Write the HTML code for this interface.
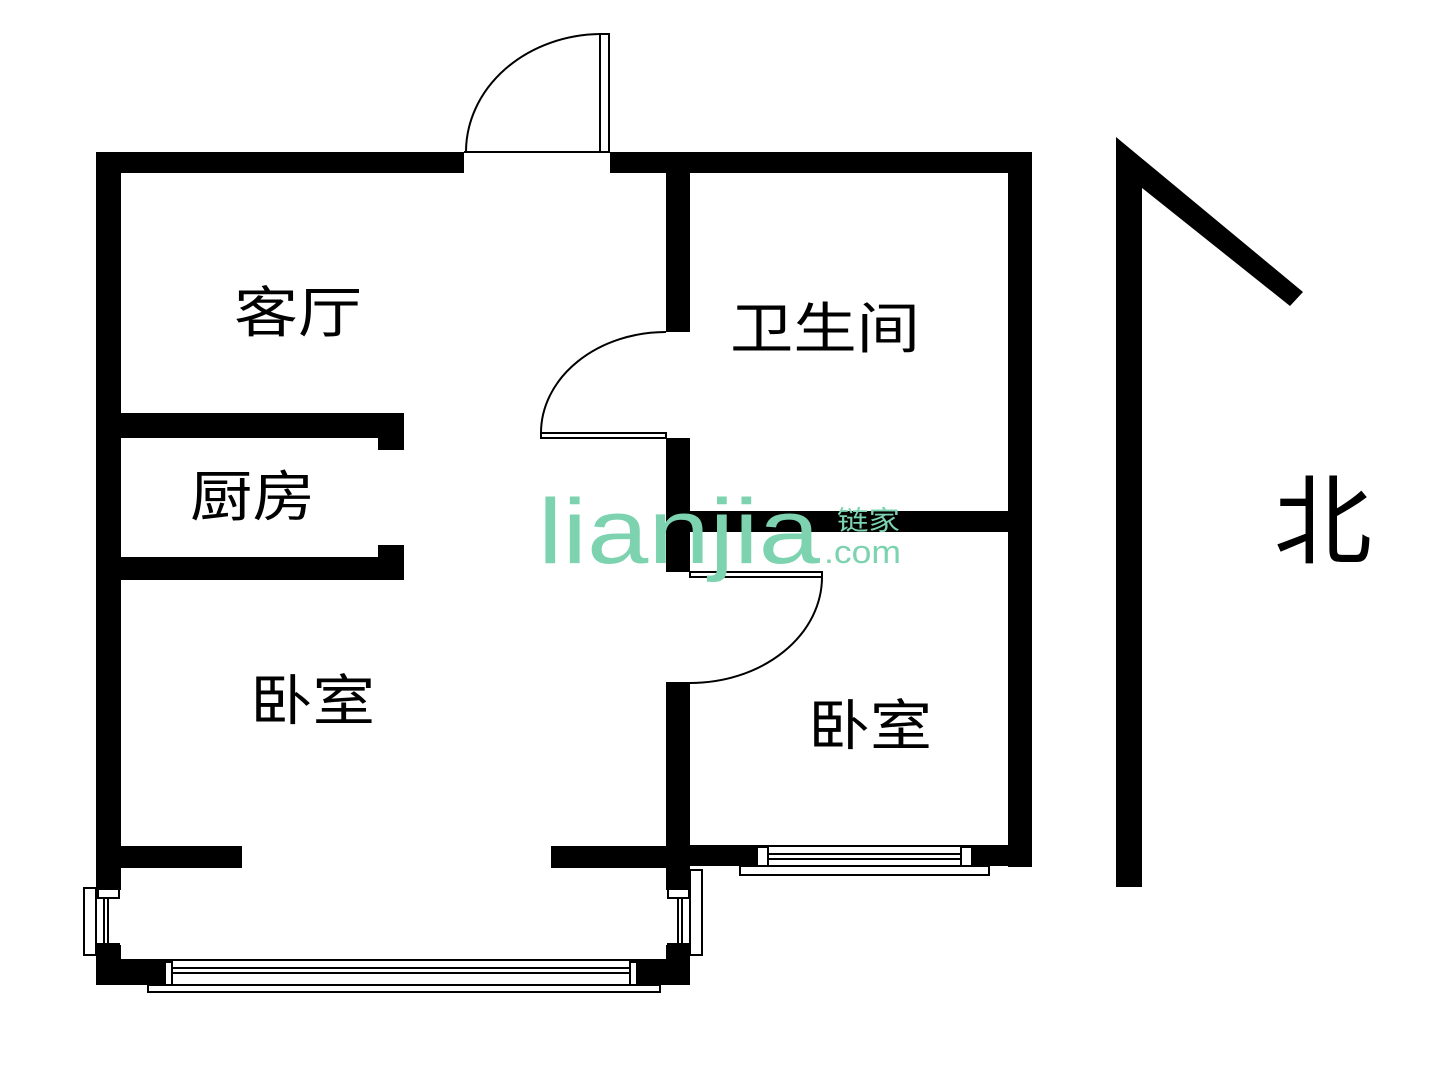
<!DOCTYPE html>
<html><head><meta charset="utf-8"><style>
html,body{margin:0;padding:0;background:#fff;width:1440px;height:1080px;overflow:hidden}
svg{display:block}
text{font-family:"Liberation Sans","Noto Sans CJK SC",sans-serif}
</style></head><body>
<svg width="1440" height="1080" viewBox="0 0 1440 1080">
<g fill="#000">
<rect x="96" y="152" width="368" height="21"/>
<rect x="610" y="152" width="422" height="21"/>
<rect x="96" y="152" width="25" height="717"/>
<rect x="1008" y="152" width="24" height="715"/>
<rect x="666" y="152" width="24" height="180"/>
<rect x="666" y="438" width="24" height="134"/>
<rect x="666" y="682" width="24" height="186"/>
<rect x="121" y="413" width="283" height="25"/>
<rect x="378" y="438" width="26" height="12"/>
<rect x="121" y="557" width="283" height="23"/>
<rect x="378" y="545" width="26" height="12"/>
<rect x="690" y="511" width="318" height="21"/>
<rect x="121" y="846" width="121" height="22"/>
<rect x="551" y="846" width="139" height="22"/>
<rect x="690" y="846" width="67" height="20"/>
<rect x="972" y="846" width="60" height="20"/>
<rect x="96" y="868" width="25" height="22"/>
<rect x="96" y="945" width="25" height="40"/>
<rect x="96" y="960" width="69" height="25"/>
<rect x="666" y="868" width="24" height="22"/>
<rect x="666" y="945" width="24" height="40"/>
<rect x="636" y="960" width="54" height="25"/>
<polygon points="1116,137 1303,292 1290,306 1142,188 1142,887 1116,887"/>
</g>
<g fill="none" stroke="#000" stroke-width="2">
<rect x="84" y="888" width="12" height="67"/>
<rect x="98" y="889" width="21" height="9"/>
<rect x="98" y="944" width="21" height="10"/>
<line x1="104" y1="898" x2="104" y2="944"/><line x1="108" y1="898" x2="108" y2="944"/>
<rect x="690" y="870" width="12" height="85"/>
<rect x="668" y="889" width="21" height="9"/>
<rect x="668" y="944" width="21" height="10"/>
<line x1="678" y1="898" x2="678" y2="944"/><line x1="682" y1="898" x2="682" y2="944"/>
<line x1="121" y1="960" x2="666" y2="960"/>
<rect x="165" y="962" width="7" height="23"/>
<rect x="630" y="962" width="7" height="23"/>
<line x1="172" y1="968" x2="630" y2="968"/><line x1="172" y1="973" x2="630" y2="973"/>
<rect x="148" y="985" width="512" height="7"/>
<rect x="757" y="847" width="11" height="19"/>
<rect x="961" y="847" width="11" height="19"/>
<line x1="768" y1="854" x2="961" y2="854"/><line x1="768" y1="859" x2="961" y2="859"/>
<line x1="690" y1="846" x2="1008" y2="846"/>
<rect x="740" y="866" width="249" height="9"/>
<line x1="464" y1="152" x2="610" y2="152"/>
<rect x="600" y="34" width="9" height="118"/>
<path d="M466 152 A 136 118 0 0 1 600 34"/>
<path d="M541 433 H666 V438 H541 Z"/>
<path d="M541 433 A 125 101 0 0 1 666 332"/>
<path d="M690 572 H822 V577 H690 Z"/>
<path d="M822 577 A 132 106 0 0 1 690 683"/>
</g>
<g fill="#000" font-size="55">
<text x="234" y="332" textLength="128" lengthAdjust="spacingAndGlyphs">客厅</text>
<text x="730" y="348" textLength="190" lengthAdjust="spacingAndGlyphs">卫生间</text>
<text x="190" y="516" textLength="125" lengthAdjust="spacingAndGlyphs">厨房</text>
<text x="250" y="720" textLength="125" lengthAdjust="spacingAndGlyphs">卧室</text>
<text x="808" y="745" textLength="124" lengthAdjust="spacingAndGlyphs">卧室</text>
<text x="1274" y="556" font-size="98">北</text>
</g>
<g fill="#7dd3b0">
<text x="538" y="563" font-size="92" textLength="282" lengthAdjust="spacingAndGlyphs">lianjia</text>
<text x="837" y="530" font-size="27" textLength="63" lengthAdjust="spacingAndGlyphs">链家</text>
<text x="824" y="563" font-size="32" textLength="77" lengthAdjust="spacingAndGlyphs">.com</text>
</g>
</svg>
</body></html>
